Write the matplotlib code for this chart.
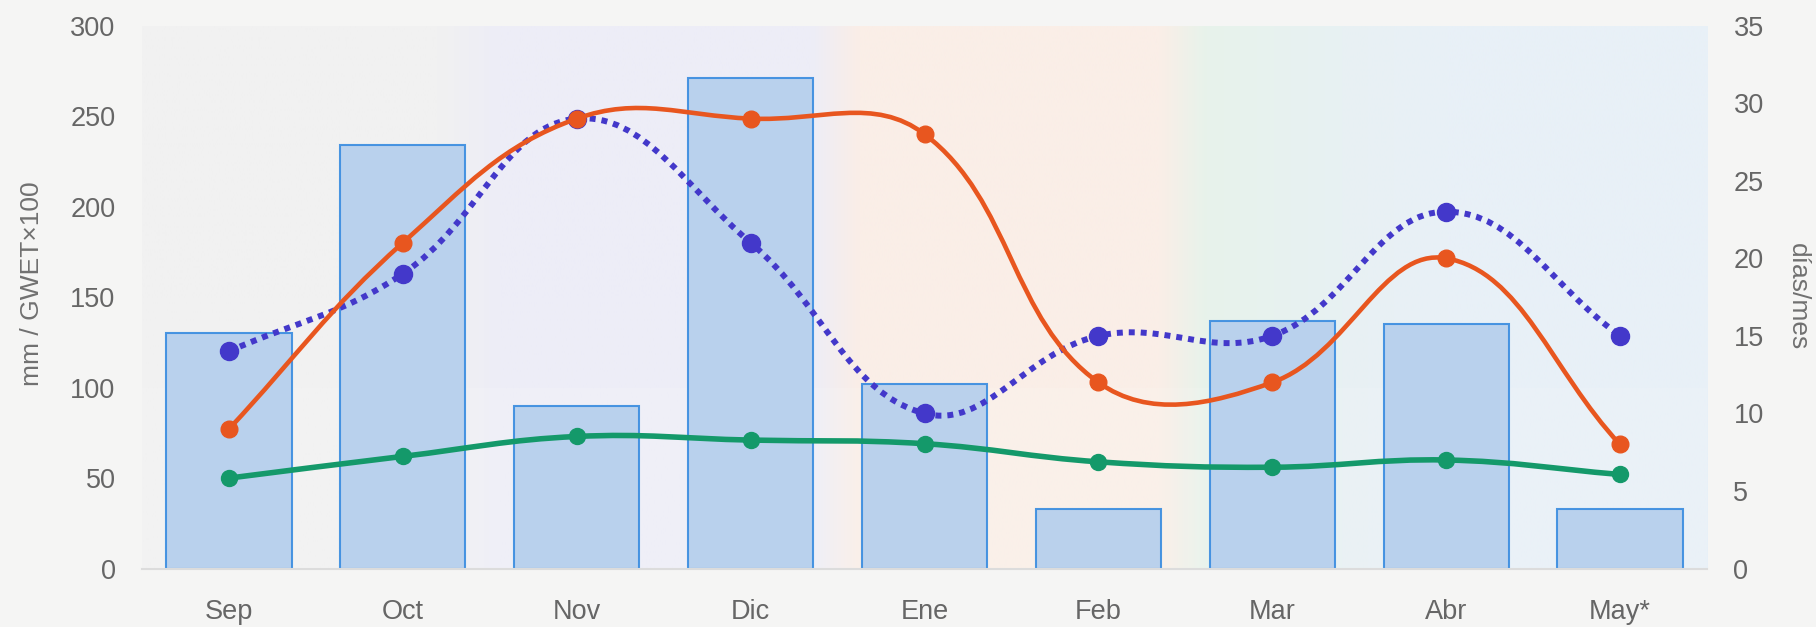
import numpy as np
import matplotlib
matplotlib.use("Agg")
import matplotlib.pyplot as plt
from matplotlib.path import Path
from matplotlib.patches import PathPatch

# ---- data -------------------------------------------------------------
months = ["Sep", "Oct", "Nov", "Dic", "Ene", "Feb", "Mar", "Abr", "May*"]
precip_mm = [130, 234, 90, 271, 102, 33, 137, 135, 33]      # bars, left axis
gwet_x100 = [50, 62, 73, 71, 69, 59, 56, 60, 52]            # green, left axis
dias_a = [14, 19, 29, 21, 10, 15, 15, 23, 15]               # dotted indigo, right axis
dias_b = [9, 21, 29, 29, 28, 12, 12, 20, 8]                 # solid orange, right axis

left_ticks = [0, 50, 100, 150, 200, 250, 300]
right_ticks = [0, 5, 10, 15, 20, 25, 30, 35]

# ---- style ------------------------------------------------------------
plt.rcParams["font.family"] = ["Liberation Sans", "DejaVu Sans"]
TICK_COLOR = "#666666"
FS = 19.5
C_BAR_FACE = (0.71, 0.81, 0.93)
C_BAR_EDGE = "#3b8de0"
C_ORANGE = "#e8561f"
C_INDIGO = "#4338ca"
C_GREEN = "#14996a"


def tension_spline(xs, ys, sx, sy, t=0.4):
    """Cubic Bezier path through the points with tension-based control points
    (computed in a screen-like scaled space)."""
    px = np.asarray(xs, float) * sx
    py = np.asarray(ys, float) * sy
    n = len(px)
    cprev = np.zeros((n, 2))
    cnext = np.zeros((n, 2))
    for i in range(n):
        i0, i2 = max(i - 1, 0), min(i + 1, n - 1)
        p0 = np.array([px[i0], py[i0]])
        p1 = np.array([px[i], py[i]])
        p2 = np.array([px[i2], py[i2]])
        d01 = np.hypot(*(p1 - p0))
        d12 = np.hypot(*(p2 - p1))
        tot = d01 + d12
        s01 = d01 / tot if tot else 0.0
        s12 = d12 / tot if tot else 0.0
        cprev[i] = p1 - t * s01 * (p2 - p0)
        cnext[i] = p1 + t * s12 * (p2 - p0)
    verts = [(px[0], py[0])]
    codes = [Path.MOVETO]
    for i in range(n - 1):
        verts += [tuple(cnext[i]), tuple(cprev[i + 1]), (px[i + 1], py[i + 1])]
        codes += [Path.CURVE4] * 3
    verts = np.array(verts)
    verts[:, 0] /= sx
    verts[:, 1] /= sy
    return Path(verts, codes)


fig = plt.figure(figsize=(18.16, 6.27), dpi=100, facecolor="#f5f5f4")
rect = [0.0782, 0.0931, 0.8618, 0.8662]
ax = fig.add_axes(rect)
ax.set_facecolor("#f1f1f1")
x = np.arange(len(months))
ax.set_xlim(-0.5, len(months) - 0.5)
ax.set_ylim(0, 300)

# seasonal background tint
stops_x = [-0.5, 1.2, 1.55, 3.35, 3.62, 5.35, 5.62, 6.4, 7.0, 8.5]
stops_c = np.array([
    (241, 241, 241), (241, 241, 241), (237, 237, 247), (237, 237, 247),
    (250, 238, 231), (250, 238, 231), (231, 243, 235), (232, 241, 243),
    (232, 240, 247), (232, 240, 247)]) / 255.0
gx = np.linspace(-0.5, 8.5, 900)
grad = np.stack([np.interp(gx, stops_x, stops_c[:, k]) for k in range(3)], axis=-1)
ax.imshow(grad[np.newaxis, :, :], extent=(-0.5, 8.5, 0, 300), aspect="auto",
          origin="lower", zorder=0, interpolation="bilinear")
ax.axhspan(0, 100, color="white", alpha=0.12, zorder=0.5, lw=0)

# bars
ax.bar(x, precip_mm, width=0.72, color=C_BAR_FACE, alpha=0.92,
       edgecolor=C_BAR_EDGE, linewidth=1.5, zorder=2)

# green series on the left axis
sx_px = 1565 / 9.0
ax.add_patch(PathPatch(tension_spline(x, gwet_x100, sx_px, 543 / 300.0),
                       fill=False, edgecolor=C_GREEN, lw=4.0, zorder=4,
                       capstyle="round", joinstyle="round"))

# right axis
ax2 = ax.twinx()
ax2.set_ylim(0, 35)
ax2.set_xlim(-0.5, len(months) - 0.5)
sy_r = 543 / 35.0
ax2.add_patch(PathPatch(tension_spline(x, dias_a, sx_px, sy_r),
                        fill=False, edgecolor=C_INDIGO, lw=4.3,
                        linestyle=(0, (1.0, 1.0)), zorder=3))
ax2.plot(x, dias_a, "o", ms=13, color=C_INDIGO, zorder=3.1)
ax2.add_patch(PathPatch(tension_spline(x, dias_b, sx_px, sy_r),
                        fill=False, edgecolor=C_ORANGE, lw=3.3, zorder=4,
                        capstyle="round", joinstyle="round"))
ax2.plot(x, dias_b, "o", ms=12, color=C_ORANGE, zorder=4.1)

# overlay axes so the green markers sit above everything
ax3 = fig.add_axes(rect, sharex=ax, sharey=ax)
ax3.patch.set_visible(False)
ax3.axis("off")
ax3.plot(x, gwet_x100, "o", ms=11.5, color=C_GREEN, zorder=5)

# axes decoration
ax.set_xticks(x)
ax.set_xticklabels(months)
ax.set_yticks(left_ticks)
ax2.set_yticks(right_ticks)
ax.tick_params(axis="x", length=0, pad=22, labelsize=FS, labelcolor=TICK_COLOR)
ax.tick_params(axis="y", length=0, pad=19, labelsize=FS, labelcolor=TICK_COLOR)
ax2.tick_params(axis="y", length=0, pad=19, labelsize=FS, labelcolor=TICK_COLOR)
for a in (ax, ax2):
    for s in a.spines.values():
        s.set_visible(False)
ax.spines["bottom"].set_visible(True)
ax.spines["bottom"].set_color("#dcdcdc")
ax.spines["bottom"].set_linewidth(1.5)

ax.set_ylabel("mm / GWET×100", fontsize=19, color="#707070", va="center")
ax.yaxis.set_label_coords(-0.0703, 0.525)
ax2.set_ylabel("días/mes", fontsize=19, color="#707070", rotation=270, va="center")
ax2.yaxis.set_label_coords(1.058, 0.5)

fig.savefig("out.png", dpi=100, facecolor=fig.get_facecolor())
